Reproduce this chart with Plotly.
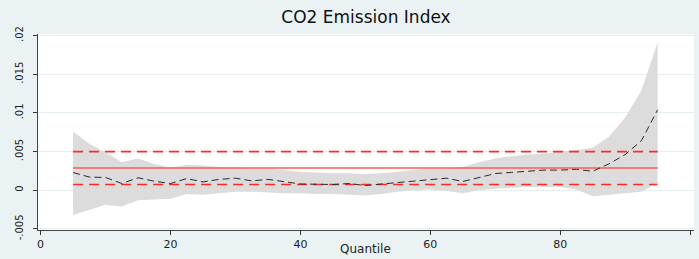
import plotly.graph_objects as go

quantiles = [5, 7.5, 10, 12.5, 15, 17.5, 20, 22.5, 25, 27.5, 30, 32.5, 35, 37.5, 40,
             42.5, 45, 47.5, 50, 52.5, 55, 57.5, 60, 62.5, 65, 67.5, 70, 72.5, 75,
             77.5, 80, 82.5, 85, 87.5, 90, 92.5, 95]
qr_coef = [0.00228, 0.0017, 0.00164, 0.00086, 0.0016, 0.00116, 0.00086, 0.0015, 0.00107,
           0.0014, 0.00155, 0.0012, 0.0014, 0.00107, 0.0008, 0.00077, 0.00073, 0.00086,
           0.0006, 0.0008, 0.001, 0.0012, 0.0014, 0.00155, 0.00112, 0.0016, 0.00215,
           0.0023, 0.00245, 0.0026, 0.0026, 0.0027, 0.00245, 0.0034, 0.0046, 0.0064, 0.0104]
qr_upper = [0.0076, 0.0060, 0.0049, 0.0036, 0.0041, 0.0034, 0.0029, 0.0033, 0.0032, 0.0030,
            0.0029, 0.0028, 0.0028, 0.0026, 0.0024, 0.0023, 0.0022, 0.0022, 0.0021, 0.0022,
            0.0024, 0.0026, 0.0028, 0.0028, 0.0030, 0.0036, 0.0041, 0.0044, 0.0046, 0.0047,
            0.0050, 0.0052, 0.0055, 0.0069, 0.0094, 0.0129, 0.0191]
qr_lower = [-0.0032, -0.0026, -0.0019, -0.0021, -0.0013, -0.0012, -0.0011, -0.0005, -0.0006,
            -0.0004, -0.0002, -0.0002, -0.0003, -0.0004, -0.0004, -0.0005, -0.0005, -0.0006,
            -0.0007, -0.0005, -0.0002, 0.0, 0.0001, -0.0001, -0.0004, 0.0, 0.0002, 0.0003,
            0.0004, 0.0004, 0.0004, 0.0001, -0.0008, -0.0006, -0.0004, -0.0002, 0.0009]
ols_coef = 0.00287
ols_lower = 0.00073
ols_upper = 0.00499

y_tickvals = [-0.005, 0, 0.005, 0.01, 0.015, 0.02]
y_ticktext = ["-.005", "0", ".005", ".01", ".015", ".02"]
x_tickvals = [0, 20, 40, 60, 80, 100]

bg = "#EAF2F3"
band = "#DCDCDC"

W, H = 699, 259
ML, MR, MT, MB = 38, 5, 34, 29

fig = go.Figure()
fig.add_trace(go.Scatter(x=quantiles, y=qr_lower, mode="lines", line=dict(width=0, color=band),
                         showlegend=False, hoverinfo="skip"))
fig.add_trace(go.Scatter(x=quantiles, y=qr_upper, mode="lines", line=dict(width=0, color=band),
                         fill="tonexty", fillcolor=band, showlegend=False, hoverinfo="skip"))
x_ends = [quantiles[0], quantiles[-1]]
fig.add_trace(go.Scatter(x=x_ends, y=[ols_upper] * 2, mode="lines",
                         line=dict(color="#FF2A2A", width=1.6, dash="10px,6px"), showlegend=False))
fig.add_trace(go.Scatter(x=x_ends, y=[ols_lower] * 2, mode="lines",
                         line=dict(color="#FF2A2A", width=1.6, dash="10px,6px"), showlegend=False))
fig.add_trace(go.Scatter(x=x_ends, y=[ols_coef] * 2, mode="lines",
                         line=dict(color="#FF5A5A", width=1.6), showlegend=False))
fig.add_trace(go.Scatter(x=quantiles, y=qr_coef, mode="lines",
                         line=dict(color="#2A2A2A", width=1, dash="7px,4px"), showlegend=False))

plot_w = W - ML - MR
plot_h = H - MT - MB

fig.update_layout(
    width=W, height=H,
    margin=dict(l=ML, r=MR, t=MT, b=MB),
    paper_bgcolor=bg, plot_bgcolor="white",
    font=dict(family="DejaVu Sans", color="#222222"),
    title=dict(text="CO2 Emission Index", x=366 / W, xanchor="center",
               y=1 - 17 / H, yanchor="middle",
               font=dict(size=17, color="#111111", family="DejaVu Sans")),
    xaxis=dict(range=[-0.4, 100.6], tickvals=x_tickvals, ticks="outside", ticklen=4,
               tickcolor="#333333", showline=True, linecolor="#444444", linewidth=1,
               showgrid=False, zeroline=False, tickfont=dict(size=11), automargin=False),
    yaxis=dict(range=[-0.00515, 0.0202], tickvals=y_tickvals, ticktext=y_ticktext,
               tickangle=-90, ticks="outside", ticklen=4, tickcolor="#333333",
               showline=True, linecolor="#444444", linewidth=1,
               showgrid=True, gridcolor="#E6EFF0", gridwidth=1, zeroline=False,
               tickfont=dict(size=10), automargin=False, ticklabelstandoff=6),
    annotations=[dict(text="Quantile", x=(365 - ML) / plot_w, xref="paper",
                      y=-(249 - (H - MB)) / plot_h, yref="paper",
                      yanchor="middle", showarrow=False,
                      font=dict(size=12, color="#222222"))],
)

fig.write_html("out.html", config={"displayModeBar": False},
               post_script="document.body.style.margin='0';document.body.style.overflow='hidden';")
